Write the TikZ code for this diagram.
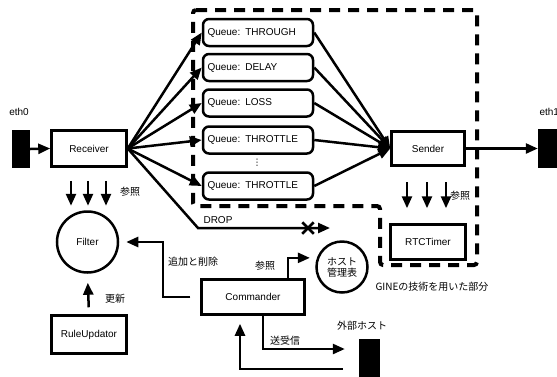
\documentclass[tikz,border=0pt]{standalone}
\usepackage{fontspec}
\setmainfont{Liberation Sans}
\newfontfamily\jp{Noto Sans CJK JP}
\newfontfamily\symb{DejaVu Sans}
\usetikzlibrary{arrows.meta,shapes.misc}

\begin{document}
\begin{tikzpicture}[x=1pt, y=-1pt, every node/.style={font=\fontsize{10}{12}\selectfont},
    box/.style={draw, line width=2.5pt, fill=white, minimum width=75pt, minimum height=36pt},
    queue/.style={draw, line width=2.5pt, rounded corners=6pt, fill=white, text width=101pt, inner xsep=4.5pt, minimum height=27pt, align=left},
    blk/.style={fill=black, inner sep=0pt},
    circ/.style={draw, circle, line width=2.5pt, inner sep=0pt},
    arr/.style={line width=2.5pt, -{Triangle[length=12pt,width=10pt]}},
    jlbl/.style={font=\fontsize{10}{11}\selectfont\jp}]
    \useasboundingbox (0,0) rectangle (557,376);

    % GINE part
    \draw[line width=4pt, dash pattern=on 11pt off 8pt, rounded corners=3pt]
        (193,10) -- (477,10) -- (477,265) -- (380,265) -- (380,206) -- (193,206) -- cycle;
    \node[jlbl] (gine) at (432,287) {GINEの技術を用いた部分};

    % Interfaces
    \node[blk, minimum width=18pt, minimum height=38pt] (eth0) at (21,149) {};
    \node (eth0lbl) at (19,112) {eth0};
    \node[blk, minimum width=26pt, minimum height=39pt] (eth1) at (551,148.5) {};
    \node[anchor=west] (eth1lbl) at (536,112) {eth1};
    \node[blk, minimum width=21pt, minimum height=44pt] (ext) at (369.5,361) {};
    \node[jlbl] (extlbl) at (362,326) {外部ホスト};

    % Boxes
    \node[box] (recv) at (89,148.5) {Receiver};
    \node[box, minimum width=73pt, minimum height=34pt] (send) at (428,148.5) {Sender};
    \node[box, minimum height=35pt] (rtc) at (428,242) {RTCTimer};
    \node[box, minimum height=38pt] (rule) at (89,334.5) {RuleUpdator};
    \node[box, minimum width=103pt, minimum height=35pt] (cmd) at (253,297) {Commander};
    \node[circ, minimum size=61pt] (filter) at (87.5,242) {Filter};
    \node[circ, minimum size=51pt, jlbl, align=center] (host) at (342,267) {ホスト\\管理表};

    % Queues
    \node[queue] (q1) at (258,32.5) {Queue: THROUGH};
    \node[queue] (q2) at (258,67.5) {Queue: DELAY};
    \node[queue] (q3) at (258,103) {Queue: LOSS};
    \node[queue] (q4) at (258,140) {Queue: THROTTLE};
    \node[font=\fontsize{9}{9}\selectfont\symb, inner sep=0pt] (qdots) at (257,163) {⋮};
    \node[queue] (q5) at (258,186) {Queue: THROTTLE};

    % Packet flow
    \draw[arr] (eth0.east) -- (recv.west);
    \foreach \q in {q1,q2,q3,q4,q5} {
        \draw[arr] (recv.east) -- (\q.west);
        \draw[arr] (\q.east) -- (send.west);
    }
    \draw[arr] (send.east) -- (eth1.west);

    % Drop
    \coordinate (dropbend) at (198,228);
    \coordinate (dropend) at (330,228);
    \draw[arr] (recv.east) -- (dropbend) -- (dropend);
    \node[cross out, draw, line width=2.5pt, minimum size=9pt, inner sep=0pt] (dropx) at (308,228) {};
    \node (droplbl) at (218,220) {DROP};

    % References
    \foreach \dx in {-18,-1,17}
        \draw[arr] ([shift={(\dx,13)}]recv.south) -- ++(0,25);
    \foreach \dx in {-21,-1,18}
        \draw[arr] ([shift={(\dx,15.5)}]send.south) -- ++(0,26);
    \node[jlbl] (ref1) at (130,192) {参照};
    \node[jlbl] (ref2) at (460,196) {参照};

    % Control
    \draw[arr, shorten <=7pt, shorten >=9pt] (rule.north) -- (filter.south);
    \node[jlbl] (upd) at (115,299) {更新};
    \coordinate (cmdturn) at (163,297);
    \draw[arr, shorten <=10pt, shorten >=7pt] (cmd.west) -- (cmdturn) |- (filter.east);
    \node[jlbl] (adddel) at (193,262) {追加と削除};
    \draw[arr, shorten >=7pt] ([xshift=35pt]cmd.north) |- (host.160);
    \node[jlbl] (ref3) at (265,266) {参照};
    \draw[arr, shorten >=14pt] ([xshift=10pt]cmd.south) |- ([yshift=12pt]ext.west);
    \node[jlbl] (trx) at (285,341) {送受信};
    \draw[arr, shorten <=16pt, shorten >=8pt] ([yshift=-8pt]ext.west) -| ([xshift=-13pt]cmd.south);
\end{tikzpicture}
\end{document}
